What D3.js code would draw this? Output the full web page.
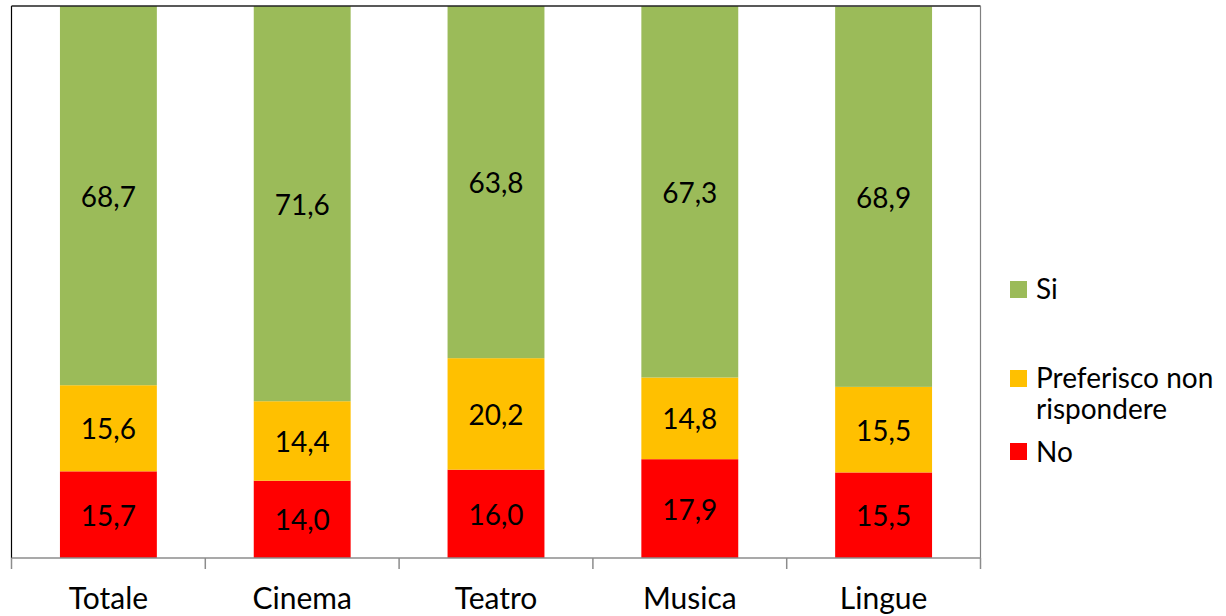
<!DOCTYPE html>
<html>
<head>
<meta charset="utf-8">
<script src="https://cdn.jsdelivr.net/npm/d3@7"></script>
<style>
  html, body { margin: 0; padding: 0; background: #fff; }
  svg { display: block; }
  text { font-family: Lato, "Open Sans", sans-serif; fill: #000; }
</style>
</head>
<body>
<svg id="chart" width="1226" height="616"></svg>
<script>
// Categories and stacked shares (percent)
const categories = ["Totale", "Cinema", "Teatro", "Musica", "Lingue"];
const no        = [15.7, 14.0, 16.0, 17.9, 15.5];
const nonRisp   = [15.6, 14.4, 20.2, 14.8, 15.5];
const si        = [68.7, 71.6, 63.8, 67.3, 68.9];

const seriesNames  = ["No", "Preferisco non rispondere", "Si"];
const seriesValues = [no, nonRisp, si];
const seriesColors = ["#FF0000", "#FFC000", "#9BBB59"];

const svg = d3.select("#chart");
const plot = { left: 11.5, right: 980.5, top: 6, bottom: 558 };

const x = d3.scaleBand()
  .domain(categories)
  .range([plot.left, plot.right])
  .paddingInner(0.5)
  .paddingOuter(0.25);

const y = d3.scaleLinear()
  .domain([0, 100])
  .range([plot.bottom, plot.top]);

// Stack the three series
const rows = categories.map((c, i) => {
  const r = { cat: c };
  seriesNames.forEach((s, k) => { r[s] = seriesValues[k][i]; });
  return r;
});
const stacked = d3.stack().keys(seriesNames)(rows);

const fmt = v => d3.format(".1f")(v).replace(".", ",");

const layers = svg.append("g").selectAll("g")
  .data(stacked)
  .join("g")
  .attr("fill", (d, i) => seriesColors[i]);

layers.selectAll("rect")
  .data(d => d)
  .join("rect")
  .attr("x", d => x(d.data.cat))
  .attr("width", x.bandwidth())
  .attr("y", d => y(d[1]))
  .attr("height", d => y(d[0]) - y(d[1]));

// Value labels centred in each segment
svg.append("g").selectAll("g")
  .data(stacked)
  .join("g")
  .selectAll("text")
  .data(d => d.map(v => ({ v, key: d.key })))
  .join("text")
  .attr("x", d => x(d.v.data.cat) + x.bandwidth() / 2)
  .attr("y", d => (y(d.v[0]) + y(d.v[1])) / 2)
  .attr("text-anchor", "middle")
  .attr("dominant-baseline", "central")
  .style("font-size", "28px")
  .text(d => fmt(d.v.data[d.key]));

// Plot frame: dark left/top, grey right
svg.append("line").attr("x1", plot.left).attr("x2", plot.left)
  .attr("y1", plot.top).attr("y2", plot.bottom)
  .attr("stroke", "#000").attr("stroke-width", 1.2);
svg.append("line").attr("x1", plot.left).attr("x2", plot.right)
  .attr("y1", plot.top).attr("y2", plot.top)
  .attr("stroke", "#222").attr("stroke-width", 1.5);
svg.append("line").attr("x1", plot.right).attr("x2", plot.right)
  .attr("y1", plot.top).attr("y2", plot.bottom)
  .attr("stroke", "#808080").attr("stroke-width", 1.2);

// Category axis with ticks between bands
const xAxis = svg.append("g")
  .attr("transform", `translate(0,${plot.bottom})`);
xAxis.append("line")
  .attr("x1", plot.left).attr("x2", plot.right)
  .attr("stroke", "#8c8c8c").attr("stroke-width", 1.5);
const boundaries = d3.range(categories.length + 1).map(i => plot.left + i * (plot.right - plot.left) / categories.length);
xAxis.selectAll("line.tick")
  .data(boundaries)
  .join("line")
  .attr("class", "tick")
  .attr("x1", d => d).attr("x2", d => d)
  .attr("y1", 0).attr("y2", 11)
  .attr("stroke", "#8c8c8c").attr("stroke-width", 1.5);
xAxis.selectAll("text")
  .data(categories)
  .join("text")
  .attr("x", d => x(d) + x.bandwidth() / 2)
  .attr("y", 51)
  .attr("text-anchor", "middle")
  .style("font-size", "30px")
  .text(d => d);

// Legend (Si on top, No at bottom)
const legendItems = [
  { name: "Si", lines: ["Si"], color: seriesColors[2], sq: 281, base: 299 },
  { name: "Preferisco non rispondere", lines: ["Preferisco non", "rispondere"], color: seriesColors[1], sq: 370, base: 388 },
  { name: "No", lines: ["No"], color: seriesColors[0], sq: 443, base: 462 }
];
const legend = svg.append("g");
const li = legend.selectAll("g").data(legendItems).join("g");
li.append("rect")
  .attr("x", 1010).attr("y", d => d.sq)
  .attr("width", 17).attr("height", 17)
  .attr("fill", d => d.color);
li.append("text")
  .attr("x", 1036)
  .attr("y", d => d.base)
  .style("font-size", "28px")
  .selectAll("tspan")
  .data(d => d.lines)
  .join("tspan")
  .attr("x", 1036)
  .attr("dy", (d, i) => i === 0 ? 0 : 31)
  .text(d => d);
</script>
</body>
</html>
